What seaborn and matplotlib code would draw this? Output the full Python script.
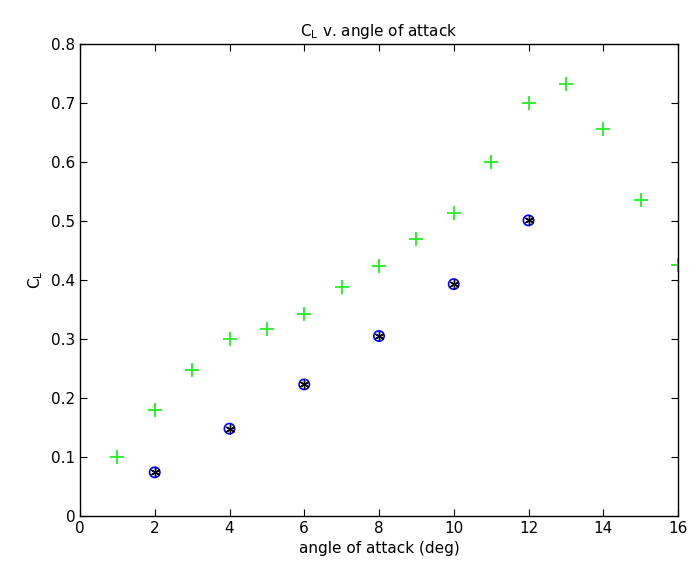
import numpy as np
import pandas as pd
import seaborn as sns
import matplotlib.pyplot as plt

# measured / predicted lift coefficient
alpha_exp = [1, 2, 3, 4, 5, 6, 7, 8, 9, 10, 11, 12, 13, 14, 15, 16]
cl_exp = [0.100, 0.179, 0.247, 0.300, 0.317, 0.343, 0.388, 0.423, 0.469,
          0.514, 0.600, 0.700, 0.733, 0.656, 0.535, 0.425]

alpha_th = [2, 4, 6, 8, 10, 12]
cl_th = [0.074, 0.148, 0.223, 0.305, 0.393, 0.501]

x_ticks = [0, 2, 4, 6, 8, 10, 12, 14, 16]
y_ticks = [0, 0.1, 0.2, 0.3, 0.4, 0.5, 0.6, 0.7, 0.8]

df_exp = pd.DataFrame({"alpha": alpha_exp, "cl": cl_exp})
df_th = pd.DataFrame({"alpha": alpha_th, "cl": cl_th})

sns.set_style("white")
plt.rcParams['font.family'] = ['DejaVu Sans']
plt.rcParams['text.color'] = 'black'
plt.rcParams['axes.labelcolor'] = 'black'

fig = plt.figure(figsize=(6.91, 5.73), dpi=100)
ax = fig.add_axes([80 / 691, 57 / 573, 598 / 691, 472 / 573])

sns.scatterplot(data=df_exp, x="alpha", y="cl", ax=ax, marker="+", s=90,
                color="#22ee22", linewidth=1.3)
sns.scatterplot(data=df_th, x="alpha", y="cl", ax=ax, marker="o", s=55,
                facecolor="none", edgecolor="blue", linewidth=1.2)
sns.scatterplot(data=df_th, x="alpha", y="cl", ax=ax, marker=(6, 2, 0), s=40,
                color="black", edgecolor="black", linewidth=1.0)

ax.set_xlim(0, 16)
ax.set_ylim(0, 0.8)
ax.set_xticks(x_ticks)
ax.set_yticks(y_ticks)
ax.set_xticklabels([str(t) for t in x_ticks])
ax.set_yticklabels(["0", "0.1", "0.2", "0.3", "0.4", "0.5", "0.6", "0.7", "0.8"])
ax.tick_params(direction="in", length=5, width=0.8, labelsize=11,
               colors="black", top=True, right=True, bottom=True, left=True,
               labeltop=False, labelright=False)
for sp in ax.spines.values():
    sp.set_color("black")
    sp.set_linewidth(1.0)

ax.set_xlabel("angle of attack (deg)", fontsize=11)
ax.set_ylabel("$\\mathregular{C_L}$", fontsize=11)
ax.set_title("$\\mathregular{C_L}$ v. angle of attack", fontsize=11)

fig.savefig("out.png", dpi=100)
